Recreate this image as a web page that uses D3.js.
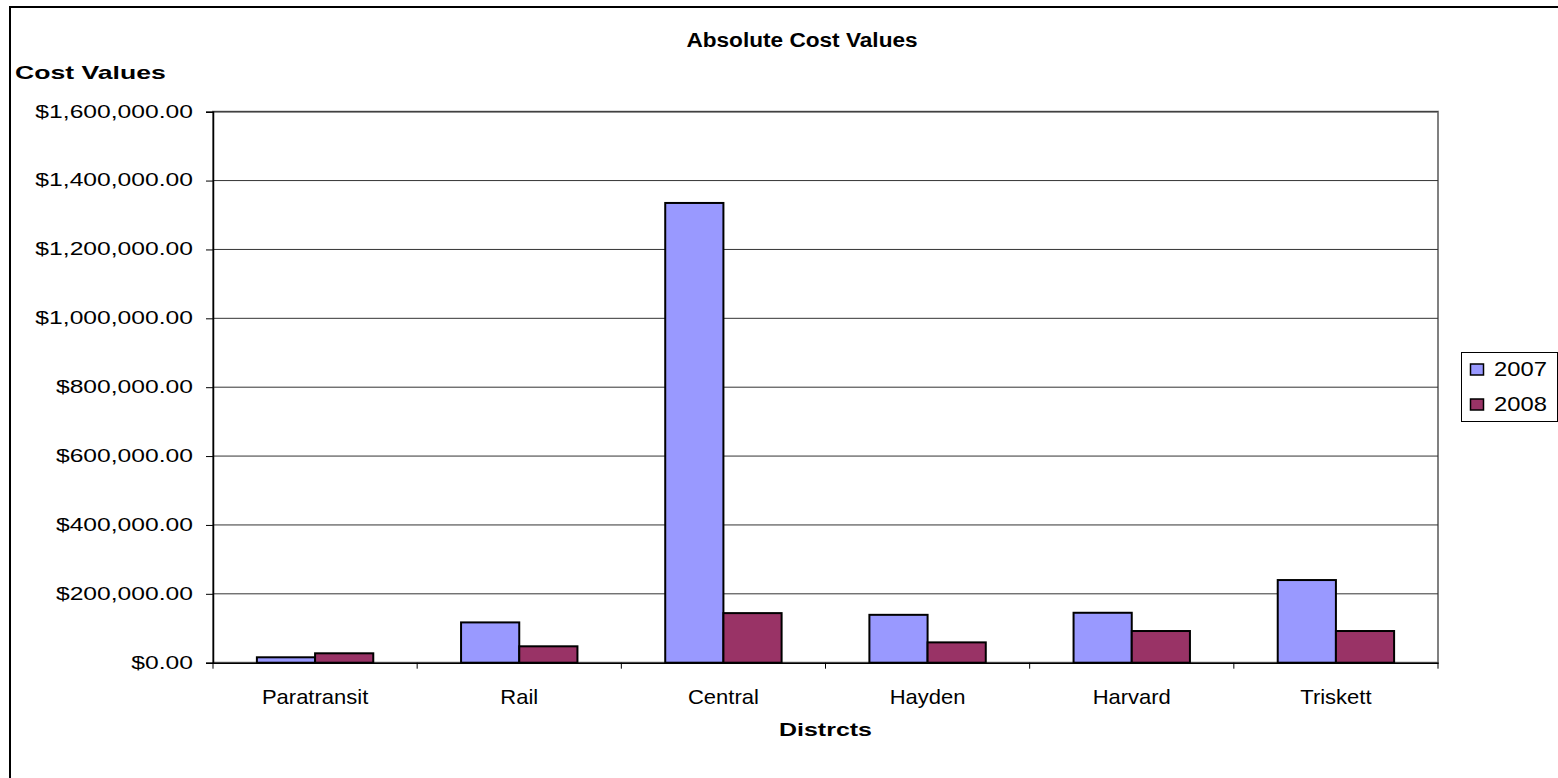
<!DOCTYPE html>
<html lang="en">
<head>
  <meta charset="utf-8">
  <title>Absolute Cost Values</title>
  <script src="https://cdn.jsdelivr.net/npm/d3@7"></script>
  <style>
    body { margin: 0; background: #fff; }
    text { font-family: "Liberation Sans", Arial, sans-serif; fill: #000; }
  </style>
</head>
<body>
  <script>
    // data
    const districts = ["Paratransit", "Rail", "Central", "Hayden", "Harvard", "Triskett"];
    const seriesNames = ["2007", "2008"];
    const cost2007 = [15700, 117000, 1335000, 139000, 145000, 240000];
    const cost2008 = [27300, 47600, 144000, 59000, 92000, 92000];
    const yTicks = [0, 200000, 400000, 600000, 800000, 1000000, 1200000, 1400000, 1600000];
    const colors = ["#9999FF", "#993366"];

    // config
    const width = 1558, height = 778;
    const plot = { left: 213, right: 1438, top: 111.7, bottom: 662.7 };

    const svg = d3.select("body").append("svg")
      .attr("width", width).attr("height", height);
    svg.append("rect").attr("width", width).attr("height", height).style("fill", "#fff");

    // chart border (runs off the right / bottom edge)
    svg.append("rect")
      .attr("x", 10).attr("y", 7).attr("width", 1600).attr("height", 900)
      .style("fill", "none").style("stroke", "#000").style("stroke-width", 2);

    const y = d3.scaleLinear().domain([0, 1600000]).range([plot.bottom, plot.top]);
    const x0 = d3.scaleBand().domain(districts).range([plot.left, plot.right]);
    const gap = x0.bandwidth() * 0.43;
    const x1 = d3.scaleBand().domain(seriesNames).range([gap / 2, x0.bandwidth() - gap / 2]);

    // stretched text helper, the source picture is wider than it is tall
    function stretch(sel, sx) {
      sel.attr("transform", function () {
        const t = d3.select(this);
        const tx = +t.attr("x"), ty = +t.attr("y");
        return `translate(${tx},${ty}) scale(${sx},1) translate(${-tx},${-ty})`;
      });
    }

    // plot area frame
    svg.append("rect")
      .attr("x", plot.left).attr("y", plot.top)
      .attr("width", plot.right - plot.left).attr("height", plot.bottom - plot.top)
      .style("fill", "#fff").style("stroke", "#808080").style("stroke-width", 2);

    // gridlines
    svg.append("g").selectAll("line").data(yTicks.slice(1)).join("line")
      .attr("x1", plot.left).attr("x2", plot.right)
      .attr("y1", d => y(d)).attr("y2", d => y(d))
      .style("stroke", "#333").style("stroke-width", 1);

    // bars
    const rows = districts.map((d, i) => ({ district: d, values: [cost2007[i], cost2008[i]] }));
    svg.append("g").selectAll("g").data(rows).join("g")
      .attr("transform", d => `translate(${x0(d.district)},0)`)
      .selectAll("rect").data(d => d.values.map((v, k) => ({ key: seriesNames[k], v, k })))
      .join("rect")
      .attr("x", d => x1(d.key)).attr("width", x1.bandwidth())
      .attr("y", d => y(d.v)).attr("height", d => y(0) - y(d.v))
      .style("fill", d => colors[d.k]).style("stroke", "#000").style("stroke-width", 2);

    // y axis
    const yAxis = svg.append("g").attr("transform", `translate(${plot.left},0)`)
      .call(d3.axisLeft(y).tickValues(yTicks).tickSize(7).tickPadding(14)
        .tickFormat(d => "$" + d3.format(",.2f")(d)));
    yAxis.select(".domain").style("stroke", "#000").style("stroke-width", 1.5);
    yAxis.selectAll(".tick line").style("stroke", "#000");
    yAxis.selectAll(".tick text")
      .attr("font-family", null).style("font-size", "18px")
      .attr("x", -20).attr("y", 0).attr("dy", "0.3em")
      .call(stretch, 1.37);

    // x axis
    const xAxis = svg.append("g").attr("transform", `translate(0,${plot.bottom})`)
      .call(d3.axisBottom(x0).tickSize(0).tickPadding(20));
    xAxis.select(".domain").style("stroke", "#000").style("stroke-width", 1.5);
    xAxis.selectAll(".tick text")
      .attr("font-family", null).style("font-size", "20px")
      .attr("y", 41).attr("dy", 0)
      .call(stretch, 1.1);
    // category boundary ticks
    xAxis.append("g").selectAll("line").data(d3.range(districts.length + 1)).join("line")
      .attr("x1", i => plot.left + i * x0.step()).attr("x2", i => plot.left + i * x0.step())
      .attr("y1", 0).attr("y2", 6)
      .style("stroke", "#000");

    // titles
    svg.append("text").attr("x", 802).attr("y", 47).attr("text-anchor", "middle")
      .style("font-size", "19.5px").style("font-weight", "bold")
      .text("Absolute Cost Values").call(stretch, 1.16);
    svg.append("text").attr("x", 15).attr("y", 79.5)
      .style("font-size", "17.5px").style("font-weight", "bold")
      .text("Cost Values").call(stretch, 1.52);
    svg.append("text").attr("x", 825.5).attr("y", 736.5).attr("text-anchor", "middle")
      .style("font-size", "18.5px").style("font-weight", "bold")
      .text("Distrcts").call(stretch, 1.35);

    // legend
    const legend = svg.append("g");
    legend.append("rect")
      .attr("x", 1461.5).attr("y", 352.5).attr("width", 96).attr("height", 69)
      .style("fill", "#fff").style("stroke", "#000").style("stroke-width", 1);
    const item = legend.selectAll("g.item").data(seriesNames).join("g").attr("class", "item")
      .attr("transform", (d, i) => `translate(0,${i * 35})`);
    item.append("rect")
      .attr("x", 1470.5).attr("y", 364).attr("width", 13).attr("height", 11)
      .style("fill", (d, i) => colors[i]).style("stroke", "#000").style("stroke-width", 1.5);
    item.append("text").attr("x", 1494).attr("y", 376.5)
      .style("font-size", "20.5px").text(d => d).call(stretch, 1.16);
  </script>
</body>
</html>
